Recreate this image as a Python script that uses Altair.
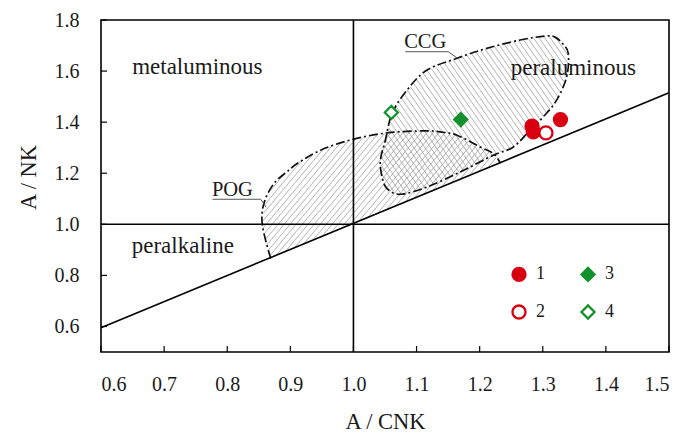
import altair as alt
import numpy as np
import pandas as pd

# ---------------- data ----------------
x_ticks = [0.6, 0.7, 0.8, 0.9, 1.0, 1.1, 1.2, 1.3, 1.4, 1.5]
y_ticks = [0.6, 0.8, 1.0, 1.2, 1.4, 1.6, 1.8]

grp = ["1", "1", "1", "2", "3", "4"]
acnk = [1.283, 1.285, 1.328, 1.305, 1.170, 1.060]
ank = [1.384, 1.362, 1.410, 1.358, 1.410, 1.438]

legend_order = ["1", "3", "2", "4"]
stroke_cols = ["#d80010", "#12922a", "#d80010", "#12922a"]
fill_cols = ["#d80010", "#12922a", "white", "white"]
shapes = ["circle", "diamond", "circle", "diamond"]

# boundary line A/NK vs A/CNK as read at the frame edges
diag_x = [0.6, 1.5]
diag_y = [0.595, 1.515]

ccg_x = [1.0506, 1.0612, 1.0849, 1.1165, 1.1640, 1.2114, 1.2640, 1.3036, 1.3194,
         1.3320, 1.3404, 1.3379, 1.3220, 1.3009, 1.2798, 1.2534, 1.2218, 1.1692,
         1.1165, 1.0743, 1.0533, 1.0454, 1.0427]
ccg_y = [1.3294, 1.4340, 1.5255, 1.6040, 1.6500, 1.6890, 1.7216, 1.7370, 1.7330,
         1.7060, 1.6690, 1.5780, 1.4860, 1.4210, 1.3686, 1.3030, 1.2706, 1.2050,
         1.1460, 1.1176, 1.1400, 1.1855, 1.2510]

pog_x = [0.869, 0.8557, 0.8582, 0.8740, 0.8977, 0.9110, 0.9478, 0.9980, 1.0533,
         1.1112, 1.1375, 1.1640, 1.2008, 1.2218, 1.2330]
pog_y = [0.866, 0.9960, 1.0824, 1.1596, 1.2118, 1.2380, 1.2900, 1.3320, 1.3580,
         1.3660, 1.3620, 1.3490, 1.3030, 1.2770, 1.2390]

field_labels = ["metaluminous", "peraluminous", "peralkaline"]
field_x = [0.7526, 1.3483, 0.7296]
field_y = [1.616, 1.611, 0.915]

name_labels = ["CCG", "POG"]
name_x = [1.1138, 0.8082]
name_y = [1.715, 1.133]

ccg_lead_x = [1.0822, 1.1502, 1.1644]
ccg_lead_y = [1.6757, 1.6757, 1.651]
pog_lead_x = [0.7766, 0.853, 0.8617]
pog_lead_y = [1.098, 1.098, 1.0667]

# ---------------- layout ----------------
W, H = 568, 332
X0, X1, Y0, Y1 = 0.6, 1.5, 0.5, 1.8
sx = W / (X1 - X0)
sy = H / (Y1 - Y0)
FONT = "Liberation Serif"


def hatch(xs, ys, angle, spacing):
    P = np.column_stack([(np.array(xs) - X0) * sx, (np.array(ys) - Y0) * sy])
    a = np.radians(angle)
    d = np.array([np.cos(a), np.sin(a)])
    n = np.array([-np.sin(a), np.cos(a)])
    proj = P @ n
    Q = np.vstack([P, P[:1]])
    rows = []
    for c in np.arange(proj.min() + spacing / 2, proj.max(), spacing):
        pts = []
        for i in range(len(P)):
            p1, p2 = Q[i], Q[i + 1]
            s1 = p1 @ n - c
            s2 = p2 @ n - c
            if (s1 < 0) != (s2 < 0):
                t = s1 / (s1 - s2)
                pts.append(p1 + t * (p2 - p1))
        pts.sort(key=lambda p: p @ d)
        for k in range(0, len(pts) - 1, 2):
            p, q = pts[k], pts[k + 1]
            rows.append({"x": p[0] / sx + X0, "y": p[1] / sy + Y0,
                         "x2": q[0] / sx + X0, "y2": q[1] / sy + Y0})
    return pd.DataFrame(rows)


xscale = alt.Scale(domain=[X0, X1], nice=False, zero=False)
yscale = alt.Scale(domain=[Y0, Y1], nice=False, zero=False)
xaxis = alt.Axis(values=x_ticks, format=".1f", grid=False, ticks=False, domain=False,
                 labelPadding=22, titleY=76, titleBaseline="alphabetic")
yaxis = alt.Axis(values=y_ticks, format=".1f", grid=False, ticks=False, domain=False,
                 labelPadding=22, titleX=-73, titleY=157, titleBaseline="middle")


def X(f):
    return alt.X(f, type="quantitative", scale=xscale, axis=xaxis, title="A / CNK")


def Y(f):
    return alt.Y(f, type="quantitative", scale=yscale, axis=yaxis, title="A / NK")


# hatching
pog_h = hatch(pog_x, pog_y, 50, 4.6)
ccg_h = hatch(ccg_x, ccg_y, 125, 4.6)
hatch_layers = [
    alt.Chart(df).mark_rule(color="#9a9a9a", strokeWidth=0.75).encode(
        x=X("x"), y=Y("y"), x2="x2", y2="y2")
    for df in (pog_h, ccg_h)
]

# outlines
ccg_df = pd.DataFrame({"x": ccg_x, "y": ccg_y, "i": range(len(ccg_x))})
pog_df = pd.DataFrame({"x": pog_x, "y": pog_y, "i": range(len(pog_x))})
dash = [9, 3, 2, 3]
ccg_line = alt.Chart(ccg_df).mark_line(interpolate="cardinal-closed", color="#111",
                                       strokeWidth=1.7, strokeDash=dash).encode(
    x=X("x"), y=Y("y"), order="i:Q")
pog_line = alt.Chart(pog_df).mark_line(interpolate="cardinal", color="#111",
                                       strokeWidth=1.7, strokeDash=dash).encode(
    x=X("x"), y=Y("y"), order="i:Q")

# reference lines
diag_df = pd.DataFrame({"x": [diag_x[0]], "y": [diag_y[0]], "x2": [diag_x[1]], "y2": [diag_y[1]]})
diag = alt.Chart(diag_df).mark_rule(color="black", strokeWidth=1.6).encode(
    x=X("x"), y=Y("y"), x2="x2", y2="y2")
vh_df = pd.DataFrame({"x": [1.0, X0], "y": [Y0, 1.0], "x2": [1.0, X1], "y2": [Y1, 1.0]})
vh = alt.Chart(vh_df).mark_rule(color="black", strokeWidth=1.6).encode(
    x=X("x"), y=Y("y"), x2="x2", y2="y2")

# inner ticks
xt_df = pd.DataFrame({"x": x_ticks, "y": [Y0] * len(x_ticks)})
xt = alt.Chart(xt_df).mark_rule(color="black", strokeWidth=1.2, y2Offset=-6).encode(
    x=X("x"), y=Y("y"), y2="y")
yt_df = pd.DataFrame({"x": [X0] * len(y_ticks), "y": y_ticks})
yt = alt.Chart(yt_df).mark_rule(color="black", strokeWidth=1.2, x2Offset=6).encode(
    x=X("x"), y=Y("y"), x2="x")

# leader lines
lead_df = pd.DataFrame({
    "x": ccg_lead_x + pog_lead_x, "y": ccg_lead_y + pog_lead_y,
    "g": ["c"] * 3 + ["p"] * 3, "i": list(range(3)) * 2})
leads = alt.Chart(lead_df).mark_line(color="#555", strokeWidth=1).encode(
    x=X("x"), y=Y("y"), detail="g:N", order="i:Q")

# texts
ft_df = pd.DataFrame({"t": field_labels, "x": field_x, "y": field_y})
ftext = alt.Chart(ft_df).mark_text(font=FONT, fontSize=23, color="#1a1a1a",
                                   baseline="middle").encode(x=X("x"), y=Y("y"), text="t:N")
nt_df = pd.DataFrame({"t": name_labels, "x": name_x, "y": name_y})
ntext = alt.Chart(nt_df).mark_text(font=FONT, fontSize=20.5, color="#1a1a1a",
                                   baseline="middle").encode(x=X("x"), y=Y("y"), text="t:N")

# samples
pts_df = pd.DataFrame({"g": grp, "x": acnk, "y": ank})
pts = alt.Chart(pts_df).mark_point(filled=True, size=170, strokeWidth=2.3, opacity=1).encode(
    x=X("x"), y=Y("y"),
    stroke=alt.Stroke("g:N", scale=alt.Scale(domain=legend_order, range=stroke_cols), title=None),
    fill=alt.Fill("g:N", scale=alt.Scale(domain=legend_order, range=fill_cols), title=None),
    shape=alt.Shape("g:N", scale=alt.Scale(domain=legend_order, range=shapes), title=None),
)

chart = alt.layer(*hatch_layers, pog_line, ccg_line, diag, vh, xt, yt, leads,
                  ftext, ntext, pts).properties(
    width=W, height=H,
    autosize=alt.AutoSizeParams(type="none"),
    padding={"left": 101, "top": 20, "right": 7, "bottom": 81},
    background="white",
).configure_view(stroke="black", strokeWidth=1.6).configure_axis(
    labelFont=FONT, labelFontSize=20, labelColor="#1a1a1a",
    titleFont=FONT, titleFontSize=22.5, titleFontWeight="normal", titleColor="#1a1a1a",
).configure_legend(
    orient="none", legendX=409, legendY=245, direction="horizontal", columns=2,
    labelFont=FONT, labelFontSize=18, labelColor="#1a1a1a", symbolSize=170,
    symbolStrokeWidth=2.3, columnPadding=31, rowPadding=14, labelOffset=8, padding=0,
)

chart.save("out.html", embed_options={"renderer": "svg", "actions": False})
